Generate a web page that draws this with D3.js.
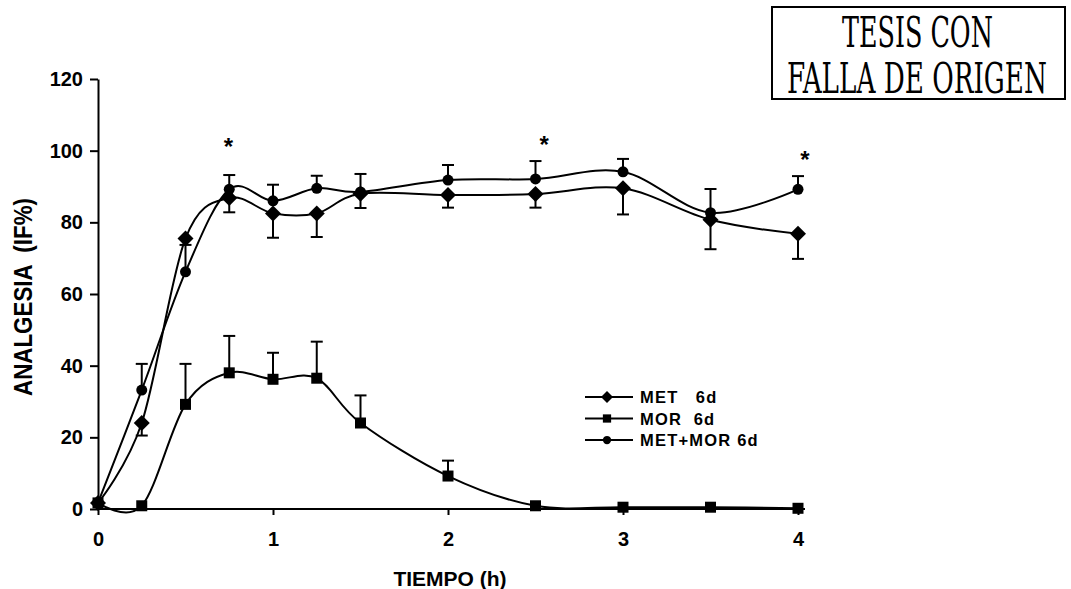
<!DOCTYPE html>
<html>
<head>
<meta charset="utf-8">
<script src="https://cdn.jsdelivr.net/npm/d3@7"></script>
<style>
  body { margin: 0; background: #fff; }
  text { font-family: "Liberation Sans", Arial, sans-serif; font-weight: bold; fill: #000; }
</style>
</head>
<body>
<div id="chart"></div>
<script>
// tiempo (h)
var times = [0, 0.25, 0.5, 0.75, 1, 1.25, 1.5, 2, 2.5, 3, 3.5, 4];
// MET 6d, error hacia abajo
var met = [1.7, 24, 75.5, 86.8, 82.5, 82.5, 88, 87.6, 87.9, 89.5, 80.7, 76.8];
var metErr = [0, 3.5, 0, 4, 6.8, 6.6, 4, 3.5, 3.8, 7.3, 8.2, 7];
// MOR 6d, error hacia arriba
var mor = [1.7, 0.9, 29.2, 38, 36.2, 36.5, 24, 9.2, 0.9, 0.5, 0.5, 0.2];
var morErr = [0, 0, 11.3, 10.3, 7.4, 10.2, 7.7, 4.3, 0, 0, 0, 0];
// MET+MOR 6d, error hacia arriba
var metmor = [1.7, 33.2, 66.2, 89.2, 86, 89.5, 88.5, 91.8, 92.1, 94.1, 82.7, 89.2];
var metmorErr = [0, 7.3, 7.5, 4, 4.5, 3.5, 5, 4.2, 5, 3.6, 6.6, 3.7];
// asteriscos [tiempo, valor]
var stars = [[0.745, 98.8], [2.55, 99.4], [4.04, 95.2]];
var yTicks = [0, 20, 40, 60, 80, 100, 120];
var xTicks = [0, 1, 2, 3, 4];

var width = 1071, height = 589;
var svg = d3.select("#chart").append("svg")
  .attr("width", width)
  .attr("height", height);

var x = d3.scaleLinear().domain([0, 4]).range([98, 798]);
var y = d3.scaleLinear().domain([0, 120]).range([509, 79]);

// ejes
var yAxis = svg.append("g")
  .attr("transform", "translate(" + x(0) + ",0)")
  .call(d3.axisLeft(y).tickValues(yTicks).tickSize(8).tickSizeOuter(0).tickPadding(7));
var xAxis = svg.append("g")
  .attr("transform", "translate(0," + y(0) + ")")
  .call(d3.axisBottom(x).tickValues(xTicks).tickFormat(d3.format("d")).tickSize(6).tickSizeOuter(0).tickPadding(17));
[yAxis, xAxis].forEach(function(a){
  a.select(".domain").attr("stroke", "#000").attr("stroke-width", 2);
  a.selectAll(".tick line").attr("stroke", "#000").attr("stroke-width", 2);
  a.selectAll(".tick text")
    .style("font-family", "'Liberation Sans', Arial, sans-serif")
    .style("font-weight", "bold")
    .style("font-size", "20px")
    .attr("fill", "#000");
});
xAxis.select(".domain").attr("d", "M" + x(0) + ",0H" + (x(4) + 7));

svg.append("text")
  .attr("transform", "translate(32," + 297 + ") rotate(-90)")
  .attr("text-anchor", "middle")
  .attr("textLength", 198).attr("lengthAdjust", "spacingAndGlyphs")
  .style("font-size", "25px")
  .style("white-space", "pre")
  .text("ANALGESIA  (IF%)");
svg.append("text")
  .attr("x", 450).attr("y", 586)
  .attr("text-anchor", "middle")
  .style("font-size", "21px")
  .text("TIEMPO (h)");

var line = d3.line()
  .x(function(d){ return x(d[0]); })
  .y(function(d){ return y(d[1]); })
  .curve(d3.curveCardinal.tension(0));

var series = [
  {name: "MET   6d", vals: met, err: metErr, dir: -1, shape: "diamond"},
  {name: "MOR  6d", vals: mor, err: morErr, dir: 1, shape: "square"},
  {name: "MET+MOR 6d", vals: metmor, err: metmorErr, dir: 1, shape: "circle"}
];

function marker(g, shape, cx, cy, scale){
  var s = scale || 1;
  if (shape === "diamond") {
    g.append("path")
      .attr("d", "M" + cx + "," + (cy - 8 * s) + "L" + (cx + 8 * s) + "," + cy + "L" + cx + "," + (cy + 8 * s) + "L" + (cx - 8 * s) + "," + cy + "Z")
      .attr("fill", "#000");
  } else if (shape === "square") {
    g.append("rect")
      .attr("x", cx - 5.5 * s).attr("y", cy - 5.5 * s)
      .attr("width", 11 * s).attr("height", 11 * s)
      .attr("fill", "#000");
  } else {
    g.append("circle").attr("cx", cx).attr("cy", cy).attr("r", 5.5 * s).attr("fill", "#000");
  }
}

series.forEach(function(s){
  var pts = times.map(function(t, i){ return [t, s.vals[i]]; });
  var g = svg.append("g");
  // barras de error
  times.forEach(function(t, i){
    if (!s.err[i]) return;
    var x0 = x(t), y0 = y(s.vals[i]), y1 = y(s.vals[i] + s.dir * s.err[i]);
    g.append("line").attr("x1", x0).attr("x2", x0).attr("y1", y0).attr("y2", y1)
      .attr("stroke", "#000").attr("stroke-width", 2);
    g.append("line").attr("x1", x0 - 6).attr("x2", x0 + 6).attr("y1", y1).attr("y2", y1)
      .attr("stroke", "#000").attr("stroke-width", 2);
  });
  g.append("path")
    .attr("d", line(pts))
    .attr("fill", "none")
    .attr("stroke", "#000")
    .attr("stroke-width", 2);
  pts.forEach(function(p){ marker(g, s.shape, x(p[0]), y(p[1])); });
});

// asteriscos
svg.selectAll(".star").data(stars).enter().append("text")
  .attr("class", "star")
  .attr("x", function(d){ return x(d[0]); })
  .attr("y", function(d){ return y(d[1]); })
  .attr("text-anchor", "middle")
  .style("font-size", "24px")
  .text("*");

// leyenda
var legend = svg.append("g").attr("transform", "translate(585,397)");
series.forEach(function(s, i){
  var row = legend.append("g").attr("transform", "translate(0," + (i * 21.5) + ")");
  row.append("line").attr("x1", 0).attr("x2", 48).attr("y1", 0).attr("y2", 0)
    .attr("stroke", "#000").attr("stroke-width", 2);
  marker(row, s.shape, 22, 0, 0.75);
  row.append("text")
    .attr("x", 55).attr("y", 6)
    .style("font-size", "16.5px")
    .style("letter-spacing", "1.2px")
    .style("white-space", "pre")
    .text(s.name);
});

// sello
var stamp = svg.append("g");
stamp.append("rect")
  .attr("x", 772).attr("y", 7).attr("width", 293).attr("height", 92)
  .attr("fill", "none").attr("stroke", "#000").attr("stroke-width", 2);

// texto angosto: se mide y se escala en x
function narrowText(str, x0, y0, w){
  var t = stamp.append("text")
    .attr("x", 0).attr("y", 0)
    .style("font-family", "'DejaVu Serif', 'Liberation Serif', serif")
    .style("font-stretch", "condensed")
    .style("font-weight", "normal")
    .style("font-size", "42px")
    .text(str);
  var natural = t.node().getComputedTextLength();
  t.attr("transform", "translate(" + x0 + "," + y0 + ") scale(" + (w / natural) + ",1)");
}
narrowText("TESIS CON", 842, 47, 151);
narrowText("FALLA DE ORIGEN", 787, 93, 260);
</script>
</body>
</html>
